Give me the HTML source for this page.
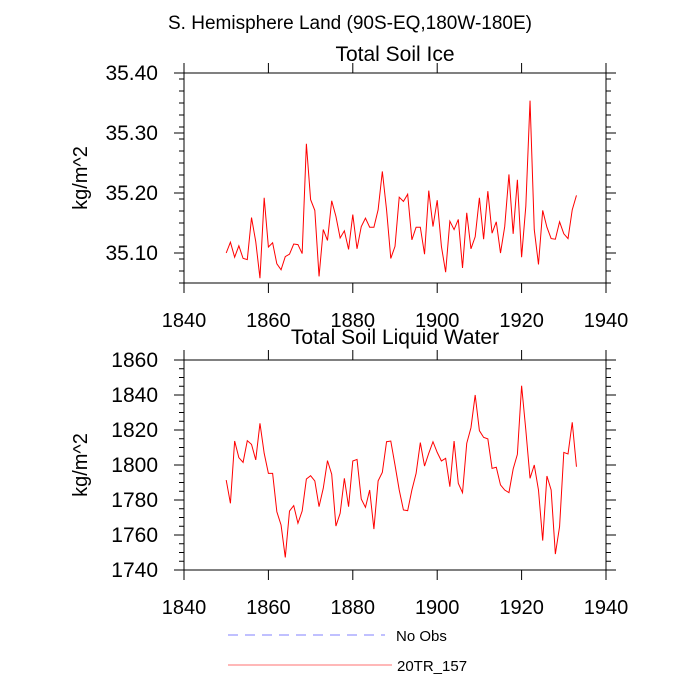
<!DOCTYPE html>
<html><head><meta charset="utf-8"><style>
html,body{margin:0;padding:0;background:#fff;}
svg{display:block;font-family:"Liberation Sans",sans-serif;}
</style></head><body>
<svg id="chart" width="700" height="700" viewBox="0 0 700 700">
<text x="350" y="29" font-size="19" text-anchor="middle">S. Hemisphere Land (90S-EQ,180W-180E)</text>
<g id="p1"></g>
<g id="p2"></g>
<g>
<line x1="228" y1="635" x2="385" y2="635" stroke="#8080ff" stroke-width="1" stroke-dasharray="10,7"/>
<text x="396" y="641" font-size="15">No Obs</text>
<line x1="228" y1="665" x2="392" y2="665" stroke="#ff7070" stroke-width="1"/>
<text x="397" y="671" font-size="15">20TR_157</text>
</g>
</svg>
<script>
const startYear = 1850;
const iceValues = [35.100,35.118,35.093,35.112,35.091,35.089,35.159,35.119,35.058,35.192,35.110,35.117,35.082,35.072,35.094,35.098,35.115,35.114,35.099,35.282,35.189,35.171,35.061,35.139,35.121,35.187,35.161,35.125,35.137,35.106,35.164,35.107,35.144,35.158,35.143,35.143,35.172,35.236,35.172,35.091,35.111,35.193,35.186,35.198,35.122,35.143,35.143,35.098,35.204,35.144,35.188,35.111,35.068,35.153,35.139,35.156,35.075,35.167,35.107,35.127,35.192,35.123,35.203,35.133,35.152,35.100,35.144,35.231,35.132,35.222,35.093,35.178,35.354,35.139,35.081,35.171,35.143,35.124,35.123,35.152,35.132,35.124,35.172,35.196];
const liqValues = [1791.4,1778.1,1813.7,1804.2,1801.5,1813.9,1811.8,1802.9,1823.8,1806.7,1795.2,1795.2,1773.3,1765.7,1747.2,1773.7,1776.8,1766.7,1773.7,1792.0,1793.9,1790.9,1776.2,1786.7,1802.5,1794.7,1765.1,1772.4,1792.4,1776.2,1802.3,1803.2,1780.6,1775.8,1785.7,1763.4,1790.9,1795.8,1813.3,1813.7,1800.0,1785.7,1774.3,1773.9,1785.7,1795.2,1812.8,1799.4,1806.7,1813.3,1807.2,1802.3,1803.8,1787.6,1813.7,1789.5,1784.2,1812.4,1821.3,1840.0,1819.6,1815.8,1814.9,1798.1,1798.7,1788.6,1785.7,1784.2,1797.7,1806.1,1845.3,1820.0,1792.4,1800.0,1785.7,1756.8,1793.7,1785.7,1749.1,1764.8,1807.2,1806.3,1824.4,1799.0];
const xTicks = [1840,1860,1880,1900,1920,1940];
const iceTicks = [35.10,35.20,35.30,35.40];
const liqTicks = [1740,1760,1780,1800,1820,1840,1860];

const NS='http://www.w3.org/2000/svg';
function mk(parent,tag,attrs){const e=document.createElementNS(NS,tag);for(const k in attrs)e.setAttribute(k,attrs[k]);parent.appendChild(e);return e;}

function panel(g,cfg){
  const L=184,R=606,T=cfg.top,B=cfg.bottom;
  const xs=v=>L+(v-1840)/(1940-1840)*(R-L);
  const ys=v=>B-(v-cfg.ymin)/(cfg.ymax-cfg.ymin)*(B-T);
  const t=mk(g,'text',{x:395,y:cfg.titleY,'font-size':21,'text-anchor':'middle'});
  t.textContent=cfg.title;
  
  
  const f=mk(g,'rect',{x:L,y:T,width:R-L,height:B-T,fill:'none',stroke:'#000','stroke-width':1});
  
  
  for(let v=cfg.ymin;v<=cfg.ymax+1e-9;v+=cfg.minor){
    const y=ys(v);
    mk(g,'line',{x1:L-5,x2:L,y1:y,y2:y,stroke:'#000','stroke-width':1});
    mk(g,'line',{x1:R,x2:R+5,y1:y,y2:y,stroke:'#000','stroke-width':1});
  }
  cfg.ticks.forEach(v=>{
    const y=ys(v);
    mk(g,'line',{x1:L-10,x2:L,y1:y,y2:y,stroke:'#000','stroke-width':1});
    mk(g,'line',{x1:R,x2:R+10,y1:y,y2:y,stroke:'#000','stroke-width':1});
    const l=mk(g,'text',{x:158,y:y+7,'font-size':21,'text-anchor':'end'});
    l.textContent=cfg.fmt(v);
    
    
  });
  xTicks.forEach(v=>{
    const x=xs(v);
    mk(g,'line',{x1:x,x2:x,y1:T-10,y2:T,stroke:'#000','stroke-width':1});
    mk(g,'line',{x1:x,x2:x,y1:B,y2:B+10,stroke:'#000','stroke-width':1});
    const l=mk(g,'text',{x:x,y:B+44,'font-size':20,'text-anchor':'middle'});
    l.textContent=v;
    
    
  });
  const yt=mk(g,'text',{x:0,y:0,'font-size':20,'text-anchor':'middle',transform:`translate(87,${(T+B)/2}) rotate(-90)`});
  yt.textContent='kg/m^2';
  
  
  const pts=cfg.values.map((v,i)=>xs(startYear+i).toFixed(2)+','+ys(v).toFixed(2)).join(' ');
  const pl=mk(g,'polyline',{points:pts,fill:'none',stroke:'#ff0000','stroke-width':1});
  
  
}
panel(document.getElementById('p1'),{top:73,bottom:283,ymin:35.05,ymax:35.40,minor:0.02,ticks:iceTicks,fmt:v=>v.toFixed(2),values:iceValues,title:'Total Soil Ice',titleY:61});
panel(document.getElementById('p2'),{top:360,bottom:570,ymin:1740,ymax:1860,minor:5,ticks:liqTicks,fmt:v=>String(v),values:liqValues,title:'Total Soil Liquid Water',titleY:344});
</script>
</body></html>
